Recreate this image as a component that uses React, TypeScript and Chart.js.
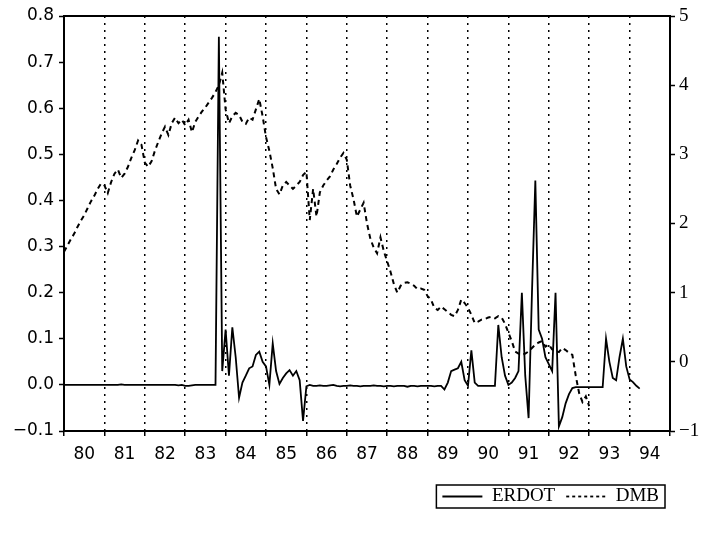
import React, { useEffect, useRef } from 'react';
import { Chart, registerables } from 'chart.js';

Chart.register(...registerables);

const START_YEAR = 1980;
const END_YEAR = 1995;
const YEAR_LABELS = ['80', '81', '82', '83', '84', '85', '86', '87', '88', '89', '90', '91', '92', '93', '94'];
const LEFT_TICKS = [-0.1, 0, 0.1, 0.2, 0.3, 0.4, 0.5, 0.6, 0.7, 0.8];
const RIGHT_TICKS = [-1, 0, 1, 2, 3, 4, 5];

// Monthly values starting January 1980
const ERDOT = [
  0, 0, 0, 0, 0, 0, 0, 0, 0, 0, 0, 0,
  0, 0, 0, 0, 0, 0.001, 0, 0, 0, 0, 0, 0,
  0, 0, 0, 0, 0, 0, 0, 0, 0, 0, -0.001, 0,
  -0.002, -0.002, -0.001, 0, 0, 0, 0, 0, 0, 0, 0.755, 0.03,
  0.12, 0.02, 0.125, 0.06, -0.028, 0.005, 0.02, 0.036, 0.04, 0.065, 0.072, 0.05,
  0.04, 0.0, 0.09, 0.03, 0.002, 0.015, 0.025, 0.032, 0.02, 0.03, 0.01, -0.078,
  -0.003, 0.0, -0.002, -0.002, -0.001, -0.002, -0.002, -0.001, 0, -0.002, -0.003, -0.002,
  -0.002, -0.001, -0.002, -0.002, -0.003, -0.002, -0.002, -0.002, -0.001, -0.002, -0.002, -0.003,
  -0.002, -0.002, -0.003, -0.002, -0.002, -0.002, -0.004, -0.002, -0.002, -0.003, -0.002, -0.002,
  -0.002, -0.002, -0.003, -0.002, -0.002, -0.01, 0.005, 0.03, 0.033, 0.036, 0.05, 0.01,
  -0.002, 0.075, 0.005, -0.002, -0.002, -0.002, -0.002, -0.002, -0.002, 0.13, 0.06, 0.02,
  0.0, 0.005, 0.015, 0.03, 0.2, 0.02, -0.072, 0.2, 0.443, 0.12, 0.1, 0.06,
  0.045, 0.03, 0.2, -0.09, -0.07, -0.04, -0.02, -0.007, -0.005, -0.005, -0.005, -0.005,
  -0.005, -0.005, -0.005, -0.005, -0.005, 0.1, 0.05, 0.015, 0.01, 0.06, 0.1, 0.04,
  0.012, 0.006, -0.002, -0.008,
];

const DMB = [
  1.59, 1.68, 1.77, 1.85, 1.95, 2.04, 2.12, 2.22, 2.32, 2.4, 2.5, 2.58,
  2.55, 2.44, 2.6, 2.72, 2.78, 2.66, 2.72, 2.82, 2.95, 3.06, 3.2, 3.14,
  2.88, 2.82, 2.9, 3.05, 3.18, 3.3, 3.4, 3.28, 3.45, 3.53, 3.45, 3.5,
  3.42, 3.5, 3.32, 3.47, 3.55, 3.62, 3.68, 3.75, 3.82, 3.9, 4.0, 4.18,
  3.65, 3.45, 3.55, 3.6, 3.57, 3.47, 3.44, 3.53, 3.5, 3.65, 3.8, 3.55,
  3.25, 3.05, 2.8, 2.5, 2.42, 2.55, 2.6, 2.55, 2.5, 2.55, 2.6, 2.7,
  2.75, 2.05, 2.5, 2.1, 2.45, 2.55, 2.62, 2.68, 2.78, 2.86, 2.95, 3.02,
  2.92, 2.55, 2.35, 2.1, 2.2, 2.3, 2.0, 1.78, 1.65, 1.57, 1.8, 1.6,
  1.45, 1.3, 1.12, 1.0, 1.1, 1.14, 1.15, 1.13, 1.1, 1.05, 1.06, 1.04,
  0.95, 0.9, 0.78, 0.75, 0.8, 0.76, 0.72, 0.68, 0.66, 0.75, 0.9, 0.85,
  0.78, 0.68, 0.56, 0.58, 0.61, 0.62, 0.64, 0.65, 0.63, 0.66, 0.64, 0.55,
  0.42, 0.3, 0.15, 0.12, 0.1, 0.12, 0.15, 0.2, 0.25, 0.28, 0.3, 0.22,
  0.25, 0.18, 0.16, 0.14, 0.2, 0.17, 0.13, 0.1, -0.2, -0.45, -0.58, -0.5,
  -0.64,
];

const LEGEND_DASH: number[][] = [[], [3, 3]];

const toPoints = (vals: number[]) => vals.map((v, i) => ({ x: START_YEAR + i / 12, y: v }));
const minus = (s: string) => s.replace('-', '\u2212');

const legendShift = {
  id: 'legendShift',
  afterLayout(chart: any) {
    const lg = chart.legend;
    if (!lg) return;
    lg.right = chart.chartArea.right;
    lg.width = lg.right - lg.left;
  },
};

const legendBorder = {
  id: 'legendBorder',
  afterDraw(chart: any) {
    const lg = chart.legend;
    if (!lg || !lg.legendHitBoxes || !lg.legendHitBoxes.length) return;
    const hb = lg.legendHitBoxes;
    const last = hb[hb.length - 1];
    const l = hb[0].left - 6;
    const r = last.left + last.width + 6;
    const t = hb[0].top - 2;
    const b = hb[0].top + hb[0].height + 2;
    const ctx = chart.ctx;
    ctx.save();
    ctx.strokeStyle = '#000';
    ctx.lineWidth = 1.5;
    ctx.setLineDash([]);
    ctx.strokeRect(l, t, r - l, b - t);
    ctx.restore();
  },
};

export default function App() {
  const ref = useRef<HTMLCanvasElement>(null);

  useEffect(() => {
    if (!ref.current) return;
    const xTickValues: number[] = [];
    for (let y = START_YEAR; y <= END_YEAR; y += 0.5) xTickValues.push(y);

    const chart = new Chart(ref.current, {
      type: 'line',
      data: {
        datasets: [
          {
            label: 'ERDOT',
            data: toPoints(ERDOT),
            yAxisID: 'y',
            borderColor: '#000',
            backgroundColor: '#000',
            borderWidth: 1.8,
            pointRadius: 0,
            tension: 0,
            fill: false,
          },
          {
            label: 'DMB',
            data: toPoints(DMB),
            yAxisID: 'y1',
            borderColor: '#000',
            backgroundColor: '#000',
            borderWidth: 2,
            borderDash: [5, 4],
            pointRadius: 0,
            tension: 0,
            fill: false,
          },
        ],
      },
      options: {
        animation: false,
        responsive: true,
        maintainAspectRatio: false,
        layout: { padding: { top: 16, right: 0, bottom: 28, left: 0 } },
        plugins: {
          tooltip: { enabled: false },
          legend: {
            display: true,
            position: 'bottom',
            align: 'end',
            labels: {
              color: '#000',
              font: { family: 'Liberation Serif', size: 19 },
              usePointStyle: true,
              pointStyle: 'line',
              pointStyleWidth: 40,
              padding: 11,
              generateLabels: (c: any) => {
                const items = (Chart as any).defaults.plugins.legend.labels.generateLabels(c);
                items.forEach((it: any, i: number) => {
                  it.lineDash = LEGEND_DASH[i] || [];
                  it.lineWidth = 1.8;
                  it.strokeStyle = '#000';
                  it.fillStyle = '#000';
                  it.pointStyle = 'line';
                });
                return items;
              },
            },
          },
        },
        scales: {
          x: {
            type: 'linear',
            position: 'bottom',
            min: START_YEAR,
            max: END_YEAR,
            afterBuildTicks: (s: any) => {
              s.ticks = xTickValues.map((v) => ({ value: v }));
            },
            afterFit: (s: any) => {
              s.height = 45;
            },
            ticks: {
              autoSkip: false,
              maxRotation: 0,
              minRotation: 0,
              padding: 8,
              color: '#000',
              font: { family: 'DejaVu Sans', size: 17 },
              callback: (v: any) => {
                const n = Number(v);
                if (Number.isInteger(n)) return '';
                const idx = Math.floor(n) - START_YEAR;
                return YEAR_LABELS[idx] ?? '';
              },
            },
            grid: {
              color: (ctx: any) => {
                const v = ctx.tick ? ctx.tick.value : 0;
                return Number.isInteger(v) && v !== START_YEAR && v !== END_YEAR ? '#000' : 'rgba(0,0,0,0)';
              },
              tickColor: (ctx: any) => {
                const v = ctx.tick ? ctx.tick.value : 0;
                return Number.isInteger(v) ? '#000' : 'rgba(0,0,0,0)';
              },
              lineWidth: 1.5,
              tickWidth: 1.5,
              tickLength: 5,
              tickBorderDash: [],
            },
            border: { display: true, color: '#000', width: 2, dash: [2, 5] },
          },
          xTop: {
            type: 'linear',
            position: 'top',
            display: true,
            min: START_YEAR,
            max: END_YEAR,
            ticks: { display: false },
            grid: { display: false, drawTicks: false },
            border: { display: true, color: '#000', width: 2 },
            afterFit: (s: any) => {
              s.height = 0;
            },
          },
          y: {
            type: 'linear',
            position: 'left',
            min: -0.1,
            max: 0.8,
            afterBuildTicks: (s: any) => {
              s.ticks = LEFT_TICKS.map((v) => ({ value: v }));
            },
            afterFit: (s: any) => {
              s.width = 64;
            },
            ticks: {
              color: '#000',
              padding: 5,
              font: { family: 'DejaVu Sans', size: 17 },
              callback: (v: any) => minus(Number(v).toFixed(1)),
            },
            grid: { drawOnChartArea: false, tickLength: 5, tickColor: '#000', tickWidth: 1.5 },
            border: { display: true, color: '#000', width: 2 },
          },
          y1: {
            type: 'linear',
            position: 'right',
            min: -1,
            max: 5,
            afterBuildTicks: (s: any) => {
              s.ticks = RIGHT_TICKS.map((v) => ({ value: v }));
            },
            afterFit: (s: any) => {
              s.width = 36;
            },
            ticks: {
              color: '#000',
              padding: 4,
              font: { family: 'Liberation Serif', size: 19 },
              callback: (v: any) => minus(String(Number(v))),
            },
            grid: { drawOnChartArea: false, tickLength: 5, tickColor: '#000', tickWidth: 1.5 },
            border: { display: true, color: '#000', width: 2 },
          },
        },
      },
      plugins: [legendShift, legendBorder],
    } as any);

    return () => chart.destroy();
  }, []);

  return (
    <div style={{ position: 'absolute', left: 0, top: 0, width: 706, height: 544, background: '#fff' }}>
      <canvas ref={ref} />
    </div>
  );
}
